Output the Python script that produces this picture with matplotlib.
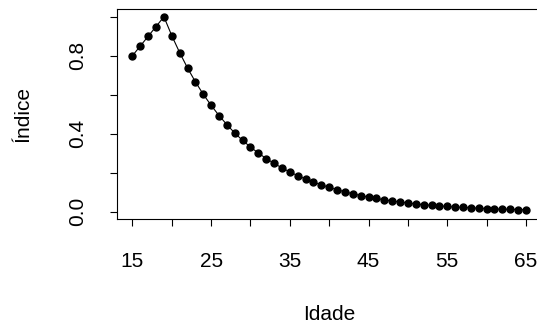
import matplotlib
matplotlib.use('Agg')
import matplotlib.pyplot as plt
import numpy as np

plt.rcParams['font.family'] = ['Liberation Sans', 'DejaVu Sans']

idade = list(range(15, 66))
indice = [0.80, 0.85, 0.90, 0.95, 1.00,
          0.903, 0.816, 0.737, 0.666, 0.602, 0.545, 0.493, 0.446, 0.403, 0.365,
          0.331, 0.300, 0.272, 0.247, 0.224, 0.203, 0.184, 0.167, 0.151, 0.137,
          0.124, 0.112, 0.101, 0.091, 0.082, 0.074, 0.067, 0.060, 0.054, 0.049,
          0.044, 0.039, 0.035, 0.032, 0.029, 0.026, 0.023, 0.021, 0.019, 0.017,
          0.015, 0.013, 0.012, 0.011, 0.010, 0.009]
x_ticks = [15, 20, 25, 30, 35, 40, 45, 50, 55, 60, 65]
x_labels = ['15', '', '25', '', '35', '', '45', '', '55', '', '65']
y_ticks = [0.0, 0.2, 0.4, 0.6, 0.8, 1.0]
y_labels = ['0.0', '', '0.4', '', '0.8', '']

W, H = 537, 326
fig = plt.figure(figsize=(W / 100, H / 100), dpi=100)
# plot box in pixels: left 116.7, right 541.7 (cut by figure), top 9, bottom 219.3
ax = fig.add_axes([116.7 / W, 1 - 219.3 / H, 425 / W, 210.3 / H])

ax.plot(idade, indice, color='black', lw=0.8, marker='o', ms=5.0)
ax.set_xlim(13, 67)
ax.set_ylim(-0.04, 1.04)

ax.set_xticks(x_ticks)
ax.set_xticklabels(x_labels)
ax.set_yticks(y_ticks)
ax.set_yticklabels(y_labels, rotation=90, va='center')
ax.tick_params(axis='both', length=5, width=0.8, labelsize=15, color='black')
ax.tick_params(axis='x', pad=18.5)
ax.tick_params(axis='y', pad=16.5)
for s in ax.spines.values():
    s.set_linewidth(0.8)
    s.set_color('black')

fig.text(23 / W, 1 - 114 / H, 'Índice', rotation=90, ha='center', va='center', fontsize=15)
fig.text(329 / W, 1 - 315 / H, 'Idade', ha='center', va='center', fontsize=15)

fig.savefig('out.png', dpi=100)
